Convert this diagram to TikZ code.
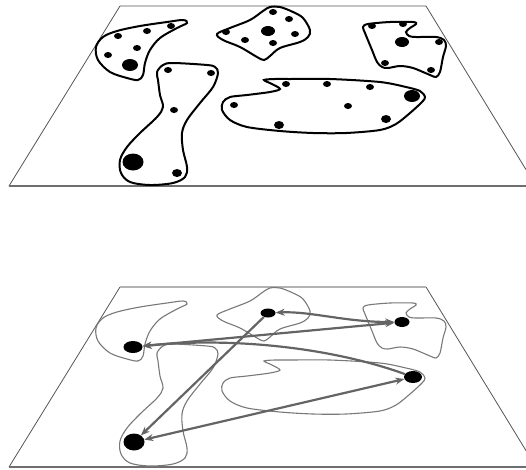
\documentclass[tikz,border=0pt]{standalone}
\usetikzlibrary{shapes.geometric,arrows.meta}
\definecolor{edgegray}{RGB}{85,85,85}
\definecolor{basegray}{RGB}{110,110,110}
\definecolor{arrowgray}{RGB}{100,100,100}
\definecolor{ghostgray}{RGB}{120,120,120}
\newcommand\shapeOne{plot[smooth cycle,tension=0.55] coordinates {(96,47) (103,37) (117,31) (140,26) (167,22) (183,20) (187,23) (177,28) (160,38) (150,50) (145,63) (143,75) (138,80) (127,78) (110,72) (98,60)}}
\newcommand\shapeTwo{plot[smooth cycle,tension=0.55] coordinates {(217,34) (230,28) (250,20) (263,11) (270,7) (280,7) (293,12) (303,18) (310,30) (308,37) (300,42) (280,48) (270,56) (264,60) (257,57) (240,47) (223,40)}}
\newcommand\shapeThree{plot[smooth cycle,tension=0.5] coordinates {(363,27) (368,24) (390,22) (413,22) (416,24) (410,28) (406,32) (409,36) (416,37) (436,37) (444,40) (446,46) (443,57) (440,72) (436,77) (430,75) (413,68) (400,66) (388,68) (382,67) (377,62) (372,50) (365,33)}}
\newcommand\shapeFour{plot[smooth cycle,tension=0.55] coordinates {(157,72) (158,80) (160,95) (163,107) (157,117) (140,133) (127,147) (120,160) (121,173) (130,182) (150,185) (173,183) (185,177) (187,167) (183,150) (182,133) (187,120) (200,103) (213,87) (218,73) (215,67) (207,65) (173,63) (163,65)}}
\newcommand\shapeFive{plot[smooth cycle,tension=0.5] coordinates {(222,110) (223,102) (230,97) (247,95) (270,92) (280,89) (272,84) (264,80) (275,79) (290,79) (330,79) (380,82) (406,87) (420,91) (425,97) (422,102) (410,113) (396,124) (380,130) (346,133) (313,133) (280,131) (247,127) (230,120)}}
\tikzset{
  planeedge/.style={draw=edgegray, line width=0.8pt},
  planebase/.style={draw=basegray, line width=1.8pt},
  topblob/.style={draw=black, line width=2pt},
  lowblob/.style={draw=ghostgray, line width=1.1pt},
  dotS/.style={ellipse, fill=black, inner sep=0pt, minimum width=8pt, minimum height=6pt},
  dotM/.style={ellipse, fill=black, inner sep=0pt, minimum width=10pt, minimum height=8pt},
  dotL/.style={ellipse, fill=black, inner sep=0pt, minimum width=16pt, minimum height=12pt},
  dotXL/.style={ellipse, fill=black, inner sep=0pt, minimum width=21pt, minimum height=17pt},
  link/.style={draw=arrowgray, line width=2.2pt, arrows={-Stealth[length=9pt,width=7pt]}},
  dlink/.style={draw=arrowgray, line width=2.2pt, arrows={Stealth[length=9pt,width=7pt]-Stealth[length=9pt,width=7pt]}}
}
\begin{document}
\begin{tikzpicture}[x=1pt,y=-1pt]
\useasboundingbox (0,0) rectangle (526,469);
\clip (0,0) rectangle (526,469);
% ---------- upper plane ----------
\coordinate (p1) at (120,6);
\coordinate (p2) at (426,6);
\coordinate (p3) at (536,186);
\coordinate (p4) at (9,186);
\draw[planeedge] (p4) -- (p1) -- (p2) -- (p3);
\draw[planebase] (p4) -- (p3);
\draw[topblob] \shapeOne;
\draw[topblob] \shapeTwo;
\draw[topblob] \shapeThree;
\draw[topblob] \shapeFour;
\draw[topblob] \shapeFive;
% dots of the upper plane
\node[dotS] (a1) at (118,36) {};
\node[dotS] (a2) at (147,31) {};
\node[dotS] (a3) at (171,26) {};
\node[dotS] (a4) at (137,48) {};
\node[dotS] (a5) at (108,55) {};
\node[dotL] (a6) at (130,65) {};
\node[dotS] (b1) at (273,12) {};
\node[dotS] (b2) at (289,19) {};
\node[dotL, minimum width=14pt, minimum height=10pt] (b3) at (268,31) {};
\node[dotS] (b4) at (295,34) {};
\node[dotS] (b5) at (226,32) {};
\node[dotS] (b6) at (245,40) {};
\node[dotS] (b7) at (273,43) {};
\node[dotS] (c1) at (372,26) {};
\node[dotS] (c2) at (403,24) {};
\node[dotL, minimum width=14pt, minimum height=10pt] (c3) at (402,42) {};
\node[dotS] (c4) at (439,42) {};
\node[dotS] (c5) at (385,63) {};
\node[dotS] (c6) at (431,70) {};
\node[dotS] (d1) at (168,70) {};
\node[dotS] (d2) at (211,73) {};
\node[dotS] (d3) at (174,110) {};
\node[dotXL] (d4) at (133,162) {};
\node[dotM] (d5) at (177,173) {};
\node[dotS] (e1) at (286,84) {};
\node[dotS] (e2) at (327,84) {};
\node[dotS] (e3) at (370,87) {};
\node[dotL] (e4) at (412,96) {};
\node[dotS] (e5) at (348,106) {};
\node[dotM] (e6) at (386,119) {};
\node[dotM] (e7) at (279,125) {};
\node[dotS] (e8) at (234,105) {};
% ---------- lower plane ----------
\coordinate (q1) at (120,287);
\coordinate (q2) at (426,287);
\coordinate (q3) at (536,467);
\coordinate (q4) at (9,467);
\draw[planeedge] (q4) -- (q1);
\draw[planeedge] (q2) -- (q3);
\draw[draw=gray!60, line width=1.5pt] (q1) -- (q2);
\draw[planebase] (q4) -- (q3);
\begin{scope}[shift={(0,281)}]
\draw[lowblob] \shapeOne;
\draw[lowblob] \shapeTwo;
\draw[lowblob] \shapeThree;
\draw[lowblob] \shapeFour;
\draw[lowblob] \shapeFive;
\end{scope}
\node[dotL, minimum width=19pt, minimum height=12pt] (A) at (133,347) {};
\node[dotXL] (B) at (134,442) {};
\node[dotL, minimum width=15pt, minimum height=9pt] (C) at (268,313) {};
\node[dotL, minimum width=15pt, minimum height=10pt] (D) at (402,322) {};
\node[dotL, minimum width=18pt, minimum height=12pt] (E) at (413,377) {};
\draw[dlink] (C) .. controls (310,311) and (345,322) .. (D);
\draw[dlink] (A) -- (D);
\draw[link] (E) .. controls (330,347) and (230,337) .. (A);
\draw[link] (C) -- (B);
\draw[dlink] (B) -- (E);
\end{tikzpicture}
\end{document}
